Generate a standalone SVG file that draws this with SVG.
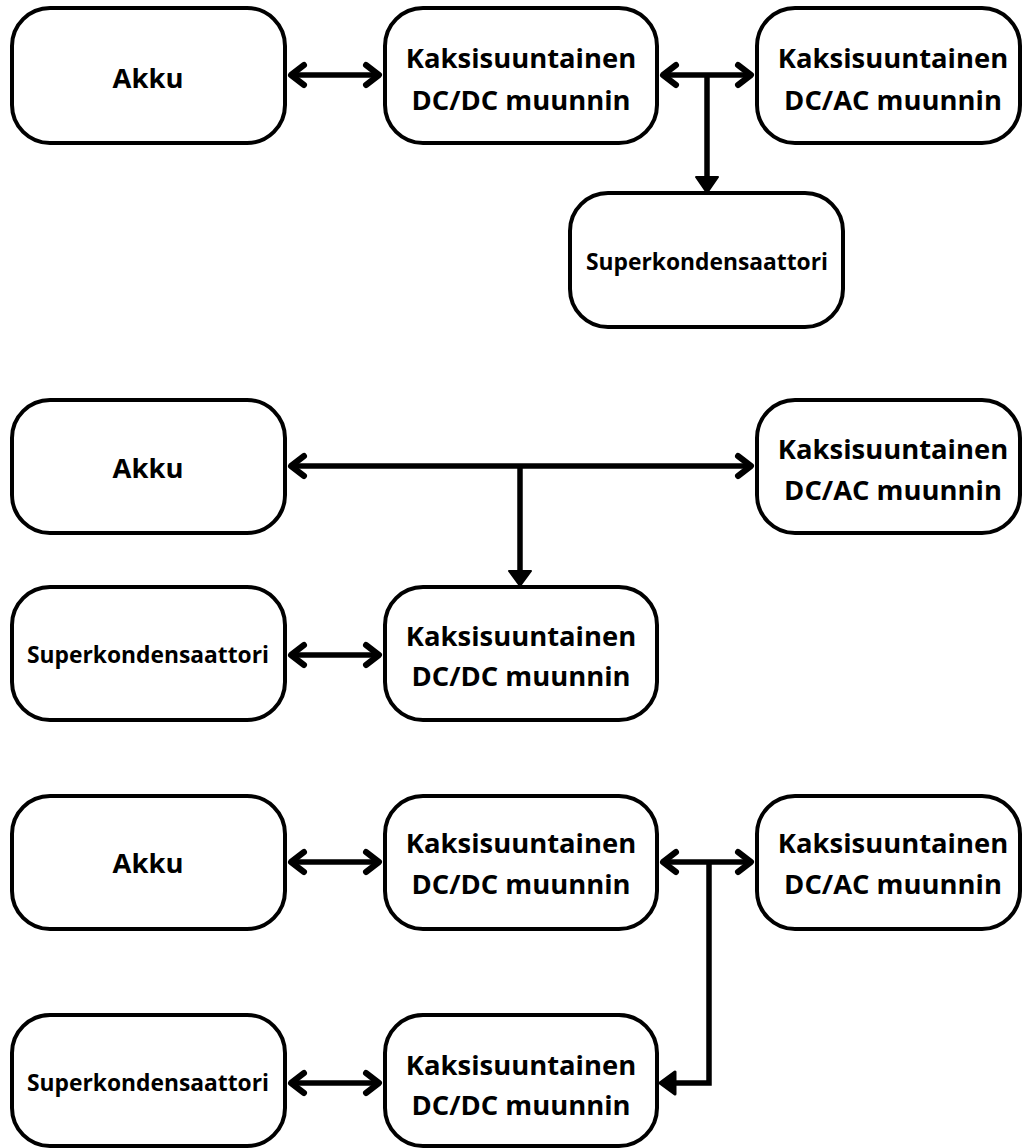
<svg xmlns="http://www.w3.org/2000/svg" width="1023" height="1148" viewBox="0 0 1023 1148">
<style>
.box{fill:#fff;stroke:#000;stroke-width:4}
.t{font-family:"Open Sans","Noto Sans","DejaVu Sans",sans-serif;font-weight:bold;fill:#000;text-anchor:middle}
.big{font-size:27.4px}
.small{font-size:22.8px}
.ln{fill:none;stroke:#000;stroke-width:5.5;stroke-linecap:butt;stroke-linejoin:miter}
.bi{marker-start:url(#chev);marker-end:url(#chev)}
</style>
<defs>
<marker id="chev" markerUnits="userSpaceOnUse" viewBox="-20 -14 26 28" refX="0" refY="0" markerWidth="26" markerHeight="28" orient="auto-start-reverse">
<path d="M-13,-10 L0,0 L-13,10" fill="none" stroke="#000" stroke-width="6" stroke-linecap="round" stroke-linejoin="round"/>
</marker>
</defs>
<rect width="1023" height="1148" fill="#fff"/>

<g id="connectors">
<line class="ln bi" x1="291" y1="75" x2="379" y2="75"/>
<line class="ln bi" x1="663" y1="75" x2="751" y2="75"/>
<line class="ln" x1="707" y1="75" x2="707" y2="178"/>
<polygon points="696,177 718,177 707,193" fill="#000" stroke="#000" stroke-width="2" stroke-linejoin="round"/>

<line class="ln bi" x1="291" y1="466" x2="751" y2="466"/>
<line class="ln" x1="520" y1="466" x2="520" y2="572"/>
<polygon points="509,571 531,571 520,586" fill="#000" stroke="#000" stroke-width="2" stroke-linejoin="round"/>
<line class="ln bi" x1="291" y1="655" x2="379" y2="655"/>

<line class="ln bi" x1="291" y1="862" x2="379" y2="862"/>
<line class="ln bi" x1="663" y1="862" x2="751" y2="862"/>
<polyline class="ln" points="709,862 709,1083 672,1083"/>
<path d="M660,1083 L675,1072 L675,1094 Z" fill="#000" stroke="#000" stroke-width="3" stroke-linejoin="round"/>
<line class="ln bi" x1="291" y1="1083" x2="379" y2="1083"/>
</g>

<g id="akku1"><rect class="box" x="12" y="8" width="273" height="135" rx="38"/><text class="t big" x="148" y="88">Akku</text></g>
<g id="dcdc1"><rect class="box" x="385" y="8" width="272" height="135" rx="38"/><text class="t big" x="521" y="68">Kaksisuuntainen</text><text class="t big" x="521" y="110">DC/DC muunnin</text></g>
<g id="dcac1"><rect class="box" x="757" y="8" width="263" height="135" rx="38"/><text class="t big" x="893" y="68">Kaksisuuntainen</text><text class="t big" x="893" y="110">DC/AC muunnin</text></g>
<g id="super1"><rect class="box" x="570" y="193" width="273" height="134" rx="38"/><text class="t small" x="707" y="270">Superkondensaattori</text></g>

<g id="akku2"><rect class="box" x="12" y="400" width="273" height="133" rx="38"/><text class="t big" x="148" y="478">Akku</text></g>
<g id="dcac2"><rect class="box" x="757" y="400" width="263" height="133" rx="38"/><text class="t big" x="893" y="459">Kaksisuuntainen</text><text class="t big" x="893" y="500">DC/AC muunnin</text></g>
<g id="super2"><rect class="box" x="12" y="587" width="273" height="133" rx="38"/><text class="t small" x="148" y="663">Superkondensaattori</text></g>
<g id="dcdc2"><rect class="box" x="385" y="587" width="272" height="133" rx="38"/><text class="t big" x="521" y="646">Kaksisuuntainen</text><text class="t big" x="521" y="686">DC/DC muunnin</text></g>

<g id="akku3"><rect class="box" x="12" y="796" width="273" height="133" rx="38"/><text class="t big" x="148" y="873">Akku</text></g>
<g id="dcdc3"><rect class="box" x="385" y="796" width="272" height="133" rx="38"/><text class="t big" x="521" y="853">Kaksisuuntainen</text><text class="t big" x="521" y="894">DC/DC muunnin</text></g>
<g id="dcac3"><rect class="box" x="757" y="796" width="263" height="133" rx="38"/><text class="t big" x="893" y="853">Kaksisuuntainen</text><text class="t big" x="893" y="894">DC/AC muunnin</text></g>
<g id="super3"><rect class="box" x="12" y="1015" width="273" height="131" rx="38"/><text class="t small" x="148" y="1091">Superkondensaattori</text></g>
<g id="dcdc4"><rect class="box" x="385" y="1015" width="272" height="131" rx="38"/><text class="t big" x="521" y="1075">Kaksisuuntainen</text><text class="t big" x="521" y="1115">DC/DC muunnin</text></g>
</svg>
